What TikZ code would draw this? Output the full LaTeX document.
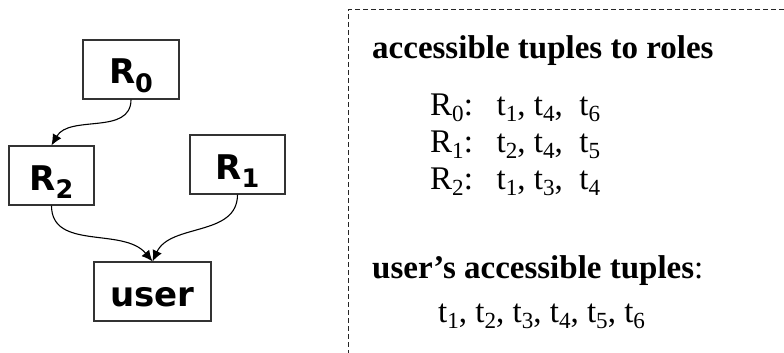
\documentclass[tikz,border=0pt]{standalone}
\usepackage{fontspec}
\setmainfont{Liberation Serif}
\newfontfamily\labelfont{DejaVu Sans}
\usepackage{tikz}
\usetikzlibrary{arrows.meta}

% lowered subscripts in the current font
\newcommand{\lo}[1]{\raisebox{-0.2em}{\scalebox{0.7}{#1}}}
\newcommand{\rolesub}[1]{\raisebox{-0.26em}{\scalebox{0.75}{#1}}}

\tikzset{
  rolebox/.style={draw=black!80, line width=1.2pt, inner sep=0pt,
    minimum height=59pt, text height=29pt, text depth=0pt,
    font=\labelfont\bfseries\fontsize{34}{40}\selectfont},
  edge/.style={-{Latex[length=11pt,width=10pt]}, line width=1.1pt},
  listline/.style={anchor=base west, inner sep=0pt,
    font=\fontsize{33}{40}\selectfont}
}

\begin{document}
\begin{tikzpicture}[x=1pt, y=-1pt]
    \useasboundingbox (0,0) rectangle (784,353);

    % Role graph
    \node[rolebox, minimum width=96pt]  (R0)   at (131,69.5)    {R\rolesub{0}};
    \node[rolebox, minimum width=85pt]  (R2)   at (51.5,175.5)  {R\rolesub{2}};
    \node[rolebox, minimum width=95pt]  (R1)   at (237.5,164.5) {R\rolesub{1}};
    \node[rolebox, minimum width=117pt] (user) at (152.5,291.5) {user};

    \draw[edge] (R0.south) to[out=-90, in=60] (R2.north);
    \draw[edge] (R2.south) to[out=-90, in=130] (user.north);
    \draw[edge] (R1.south) to[out=-90, in=65] (user.north);

    % Dashed panel (open to the right and bottom)
    \coordinate (panelTR) at (784,9.5);
    \coordinate (panelTL) at (348.5,9.5);
    \coordinate (panelBL) at (348.5,353);
    \draw[black!85, line width=1pt, dash pattern=on 5pt off 3pt]
        (panelTR) -- (panelTL) -- (panelBL);

    % Tuple lists
    \node[listline, font=\bfseries\fontsize{33}{40}\selectfont] (head) at (372,59)
        {accessible tuples to roles};
    \node[listline] (listR0) at (430,115)
        {R\lo{0}:\hspace{0.72em}t\lo{1}, t\lo{4},\hspace{0.5em}t\lo{6}};
    \node[listline] (listR1) at (430,152)
        {R\lo{1}:\hspace{0.72em}t\lo{2}, t\lo{4},\hspace{0.5em}t\lo{5}};
    \node[listline] (listR2) at (430,189)
        {R\lo{2}:\hspace{0.72em}t\lo{1}, t\lo{3},\hspace{0.5em}t\lo{4}};
    \node[listline] (userhead) at (372,278)
        {\textbf{user’s accessible tuples}:};
    \node[listline] (userlist) at (438,322)
        {t\lo{1}, t\lo{2}, t\lo{3}, t\lo{4}, t\lo{5}, t\lo{6}};
\end{tikzpicture}
\end{document}
